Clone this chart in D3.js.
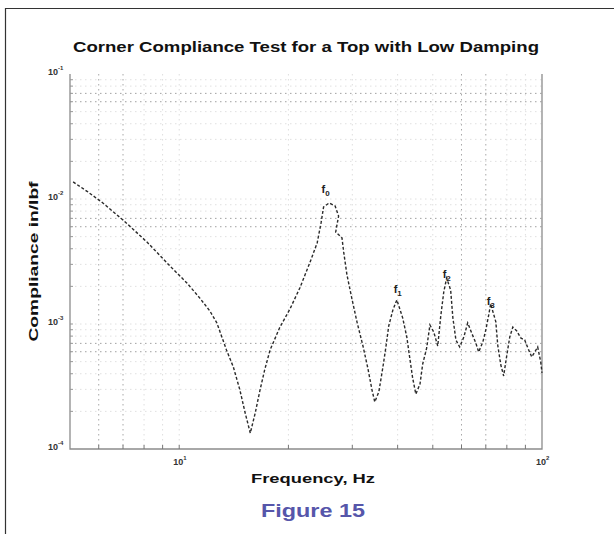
<!DOCTYPE html>
<html>
<head>
<meta charset="utf-8">
<script src="https://cdn.jsdelivr.net/npm/d3@7"></script>
<style>
  html, body { margin: 0; padding: 0; background: #fff; }
  svg { display: block; font-family: "Liberation Sans", Arial, sans-serif; }
</style>
</head>
<body>
<svg id="chart" width="614" height="534"></svg>
<script>
// Measured corner compliance of a lightly damped top (frequency in Hz, compliance in in/lbf)
const frequency = [
  5.10, 5.60, 6.16, 7.00, 8.15, 9.43, 10.5, 11.4, 12.15, 12.7,
  13.5, 14.1, 14.7, 15.2, 15.7, 16.2, 16.7, 17.2, 17.8, 18.9,
  20.2, 21.5, 22.9, 24.0, 24.6, 25.0, 25.9, 26.9, 27.5, 27.0,
  28.1, 28.4, 29.0, 29.9, 30.9, 32.1, 33.1, 34.0, 34.6, 35.5,
  36.4, 37.1, 37.8, 38.8, 39.8, 41.3, 42.4, 43.2, 44.0, 44.9,
  46.1, 46.9, 48.1, 49.1, 50.3, 51.6, 52.6, 53.6, 54.6, 56.0,
  56.8, 57.9, 59.3, 60.9, 62.4, 64.0, 65.7, 66.9, 68.7, 70.0,
  71.3, 72.2, 74.6, 75.5, 77.0, 78.4, 80.0, 81.5, 83.1, 85.2,
  87.4, 89.6, 91.4, 93.7, 95.5, 97.3, 99.2, 100
];
const compliance = [
  1.37e-2, 1.14e-2, 9.29e-3, 6.79e-3, 4.53e-3, 2.91e-3, 2.13e-3, 1.61e-3, 1.27e-3, 1.02e-3,
  6.19e-4, 4.53e-4, 2.96e-4, 1.94e-4, 1.34e-4, 1.94e-4, 2.96e-4, 4.29e-4, 6.19e-4, 9.29e-4,
  1.32e-3, 1.94e-3, 3.08e-3, 4.45e-3, 6.43e-3, 8.63e-3, 9.29e-3, 8.79e-3, 7.31e-3, 5.45e-3,
  4.88e-3, 3.77e-3, 2.47e-3, 1.61e-3, 1.04e-3, 6.67e-4, 4.45e-4, 2.96e-4, 2.38e-4, 2.86e-4,
  4.45e-4, 6.43e-4, 9.64e-4, 1.29e-3, 1.56e-3, 1.12e-3, 7.87e-4, 5.35e-4, 3.70e-4, 2.75e-4,
  3.31e-4, 4.79e-4, 6.43e-4, 9.82e-4, 8.63e-4, 6.67e-4, 1.16e-3, 1.80e-3, 2.33e-3, 1.87e-3,
  1.12e-3, 7.45e-4, 6.55e-4, 7.87e-4, 1.02e-3, 8.47e-4, 7.05e-4, 5.97e-4, 7.18e-4, 8.95e-4,
  1.18e-3, 1.45e-3, 1.04e-3, 6.79e-4, 4.70e-4, 3.84e-4, 5.65e-4, 7.87e-4, 9.46e-4, 8.79e-4,
  7.73e-4, 7.45e-4, 6.43e-4, 5.45e-4, 5.97e-4, 6.55e-4, 4.97e-4, 4.06e-4
];

// Resonance labels f0..f3 and where they sit
const modeIndex = ["0", "1", "2", "3"];
const modeFreq = [25.3, 40.0, 54.6, 72.2];
const modeComp = [1.21e-2, 1.91e-3, 2.53e-3, 1.52e-3];

// Axis tick labels (decade exponents)
const xTickValues = [10, 100];
const xTickExponents = ["1", "2"];
const yTickValues = [1e-1, 1e-2, 1e-3, 1e-4];
const yTickExponents = ["-1", "-2", "-3", "-4"];

(function draw() {
  const svg = d3.select("#chart");

  const pL = 70, pR = 542, pT = 74, pB = 449;
  const x = d3.scaleLog().domain([5, 100]).range([pL, pR]);
  const y = d3.scaleLog().domain([1e-4, 1e-1]).range([pB, pT]);

  // page frame
  svg.append("path")
    .attr("d", "M5.5,540 V8.5 H620")
    .attr("fill", "none").attr("stroke", "#333").attr("stroke-width", 1.2);

  // leading digit of a value within its decade
  const mant = d => Math.round(d / Math.pow(10, Math.floor(Math.log10(d) + 1e-9)));

  // dotted grid at every minor decade step
  const xGrid = [];
  for (const dec of [1, 10]) for (let m = 1; m <= 9; m++) {
    const v = m * dec;
    if (v > 5 && v < 100) xGrid.push(v);
  }
  const yGrid = [];
  for (const dec of [1e-4, 1e-3, 1e-2]) for (let m = 1; m <= 9; m++) {
    const v = m * dec;
    if (v > 1e-4) yGrid.push(v);
  }
  const grid = svg.append("g").attr("fill", "none");
  grid.selectAll("line.gx").data(xGrid).join("line")
    .attr("x1", d => x(d)).attr("x2", d => x(d))
    .attr("y1", pT).attr("y2", pB)
    .attr("stroke", d => (mant(d) === 6 || mant(d) === 7) ? "#a8a8a8" : "#dedede")
    .attr("stroke-width", 1)
    .attr("stroke-dasharray", "1.5,3.5");
  grid.selectAll("line.gy").data(yGrid).join("line")
    .attr("y1", d => y(d)).attr("y2", d => y(d))
    .attr("x1", pL).attr("x2", pR)
    .attr("stroke", d => (mant(d) === 6 || mant(d) === 7) ? "#a0a0a0" : "#e0e0e0")
    .attr("stroke-width", 1)
    .attr("stroke-dasharray", "1.5,3.5");

  // axes box (left, bottom, right)
  svg.append("path")
    .attr("d", `M${pL},${pT} V${pB} H${pR} V${pT}`)
    .attr("fill", "none").attr("stroke", "#8c8c8c").attr("stroke-width", 1.3);

  // small inward ticks
  svg.append("g").selectAll("line").data(xGrid).join("line")
    .attr("x1", d => x(d)).attr("x2", d => x(d))
    .attr("y1", pB).attr("y2", pB - 4)
    .attr("stroke", "#777").attr("stroke-width", 1);
  svg.append("g").selectAll("line").data(yGrid).join("line")
    .attr("y1", d => y(d)).attr("y2", d => y(d))
    .attr("x1", pL).attr("x2", pL + 3)
    .attr("stroke", "#999").attr("stroke-width", 1);

  // tick labels
  const yl = svg.append("g").attr("font-size", 9).attr("fill", "#333").attr("font-weight", "bold");
  yTickValues.forEach((v, i) => {
    const t = yl.append("text").attr("x", pL - 22).attr("y", y(v) + 1);
    t.append("tspan").text("10");
    t.append("tspan").attr("dy", -5).attr("font-size", 6).text(yTickExponents[i]);
  });
  const xl = svg.append("g").attr("font-size", 9).attr("fill", "#333").attr("font-weight", "bold");
  xTickValues.forEach((v, i) => {
    const t = xl.append("text").attr("x", x(v) - 6).attr("y", pB + 16);
    t.append("tspan").text("10");
    t.append("tspan").attr("dy", -5).attr("font-size", 6).text(xTickExponents[i]);
  });

  // measured response
  const points = frequency.map((f, i) => ({ f, c: compliance[i] }));
  svg.append("path")
    .datum(points)
    .attr("d", d3.line().x(d => x(d.f)).y(d => y(d.c)))
    .attr("fill", "none")
    .attr("stroke", "#2a2a2a")
    .attr("stroke-width", 1.4)
    .attr("stroke-dasharray", "3,2");

  // resonance labels
  const ml = svg.append("g").attr("font-size", 11).attr("font-weight", "bold").attr("fill", "#222");
  modeIndex.forEach((k, i) => {
    const t = ml.append("text").attr("x", x(modeFreq[i]) - 4).attr("y", y(modeComp[i]) + 4);
    t.append("tspan").text("f");
    t.append("tspan").attr("dy", 3).attr("font-size", 8).text(k);
  });

  // titles
  svg.append("text")
    .attr("x", (pL + pR) / 2).attr("y", 52)
    .attr("text-anchor", "middle")
    .attr("font-size", 14).attr("font-weight", "bold").attr("fill", "#111")
    .attr("textLength", 466).attr("lengthAdjust", "spacingAndGlyphs")
    .text("Corner Compliance Test for a Top with Low Damping");

  svg.append("text")
    .attr("x", 313).attr("y", 483)
    .attr("text-anchor", "middle")
    .attr("font-size", 13).attr("font-weight", "bold").attr("fill", "#111")
    .attr("textLength", 124).attr("lengthAdjust", "spacingAndGlyphs")
    .text("Frequency, Hz");

  svg.append("text")
    .attr("transform", `translate(38,${(pT + pB) / 2}) rotate(-90)`)
    .attr("text-anchor", "middle")
    .attr("font-size", 13).attr("font-weight", "bold").attr("fill", "#111")
    .attr("textLength", 160).attr("lengthAdjust", "spacingAndGlyphs")
    .text("Compliance in/lbf");

  svg.append("text")
    .attr("x", 313).attr("y", 517)
    .attr("text-anchor", "middle")
    .attr("font-size", 19).attr("font-weight", "bold").attr("fill", "#5656aa")
    .attr("textLength", 104).attr("lengthAdjust", "spacingAndGlyphs")
    .text("Figure 15");
})();
</script>
</body>
</html>
